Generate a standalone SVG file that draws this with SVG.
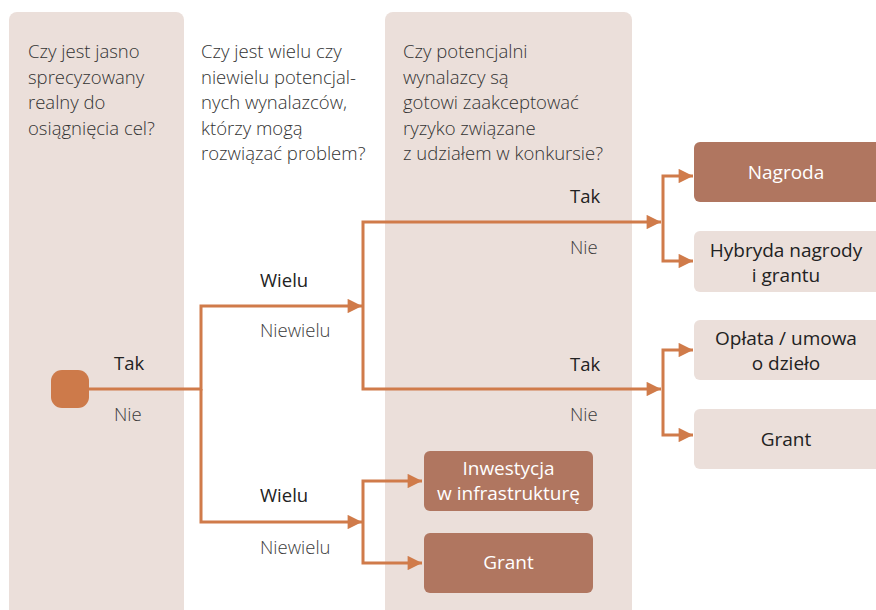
<svg xmlns="http://www.w3.org/2000/svg" width="876" height="610" viewBox="0 0 876 610">
<defs>
<style>
.panel{fill:#ebdfda}
.q{font-family:"Open Sans","Noto Sans","Liberation Sans",sans-serif;font-size:18.5px;font-weight:300;fill:#333}
.yes{font-family:"Open Sans","Noto Sans","Liberation Sans",sans-serif;font-size:18.5px;font-weight:500;fill:#222}
.no{font-family:"Open Sans","Noto Sans","Liberation Sans",sans-serif;font-size:18.5px;font-weight:300;fill:#3c3c3c}
.dark rect{fill:#b07660}
.dark text{font-family:"Open Sans","Noto Sans","Liberation Sans",sans-serif;font-size:19px;font-weight:400;fill:#fff;text-anchor:middle}
.light rect{fill:#ebdfda}
.light text{font-family:"Open Sans","Noto Sans","Liberation Sans",sans-serif;font-size:19px;font-weight:400;fill:#222;text-anchor:middle}
.c{fill:none;stroke:#d07b4a;stroke-width:3;stroke-linejoin:miter}
</style>
<marker id="ah" viewBox="0 0 10 10" refX="10" refY="5" markerWidth="5.5" markerHeight="4.8" markerUnits="strokeWidth" orient="auto">
<path d="M0,0 L10,5 L0,10 z" fill="#d07b4a"/>
</marker>
</defs>
<rect width="876" height="610" fill="#fff"/>
<g id="panel-1"><path class="panel" d="M9,20 a8,8 0 0 1 8,-8 h159 a8,8 0 0 1 8,8 V610 H9 z"/>
<text class="q" x="28" y="58">Czy jest jasno</text>
<text class="q" x="28" y="83.5">sprecyzowany</text>
<text class="q" x="28" y="109">realny do</text>
<text class="q" x="28" y="134.5">osiągnięcia cel?</text>
</g>
<g id="question-2">
<text class="q" x="201" y="58">Czy jest wielu czy</text>
<text class="q" x="201" y="83.5">niewielu potencjal-</text>
<text class="q" x="201" y="109">nych wynalazców,</text>
<text class="q" x="201" y="134.5">którzy mogą</text>
<text class="q" x="201" y="160">rozwiązać problem?</text>
</g>
<g id="panel-3"><path class="panel" d="M385,20 a8,8 0 0 1 8,-8 h231 a8,8 0 0 1 8,8 V610 H385 z"/>
<text class="q" x="403" y="58">Czy potencjalni</text>
<text class="q" x="403" y="83.5">wynalazcy są</text>
<text class="q" x="403" y="109">gotowi zaakceptować</text>
<text class="q" x="403" y="134.5">ryzyko związane</text>
<text class="q" x="403" y="160">z udziałem w konkursie?</text>
</g>
<g id="connectors">
<path class="c" d="M89,389 H201 V306 H362" marker-end="url(#ah)"/>
<path class="c" d="M201,389 V522 H362" marker-end="url(#ah)"/>
<path class="c" d="M363,306 V222 H661" marker-end="url(#ah)"/>
<path class="c" d="M363,306 V389 H661" marker-end="url(#ah)"/>
<path class="c" d="M363,522 V481 H422" marker-end="url(#ah)"/>
<path class="c" d="M363,522 V563 H422" marker-end="url(#ah)"/>
<path class="c" d="M663,222 V176 H693" marker-end="url(#ah)"/>
<path class="c" d="M663,222 V261 H693" marker-end="url(#ah)"/>
<path class="c" d="M663,389 V350 H693" marker-end="url(#ah)"/>
<path class="c" d="M663,389 V435 H693" marker-end="url(#ah)"/>
</g>
<g id="labels">
<text class="yes" x="114" y="370">Tak</text>
<text class="no" x="114" y="421">Nie</text>
<text class="yes" x="260" y="287">Wielu</text>
<text class="no" x="260" y="337">Niewielu</text>
<text class="yes" x="260" y="502">Wielu</text>
<text class="no" x="260" y="554">Niewielu</text>
<text class="yes" x="570" y="203">Tak</text>
<text class="no" x="570" y="254">Nie</text>
<text class="yes" x="570" y="371">Tak</text>
<text class="no" x="570" y="421">Nie</text>
</g>
<g id="start"><rect x="51" y="370" width="38" height="38" rx="11" fill="#cd7a4a"/></g>
<g id="nagroda" class="dark"><rect x="694" y="142" width="190" height="60" rx="6"/><text x="786" y="179">Nagroda</text></g>
<g id="hybryda" class="light"><rect x="694" y="231" width="190" height="61" rx="6"/><text x="786" y="257">Hybryda nagrody</text><text x="786" y="282">i grantu</text></g>
<g id="oplata" class="light"><rect x="694" y="320" width="190" height="60" rx="6"/><text x="786" y="345">Opłata / umowa</text><text x="786" y="370">o dzieło</text></g>
<g id="grant-right" class="light"><rect x="694" y="409" width="190" height="60" rx="6"/><text x="786" y="446">Grant</text></g>
<g id="inwestycja" class="dark"><rect x="424" y="451" width="169" height="60" rx="6"/><text x="508.5" y="475">Inwestycja</text><text x="508.5" y="500">w infrastrukturę</text></g>
<g id="grant-bottom" class="dark"><rect x="424" y="533" width="169" height="60" rx="6"/><text x="508.5" y="569">Grant</text></g>
</svg>
